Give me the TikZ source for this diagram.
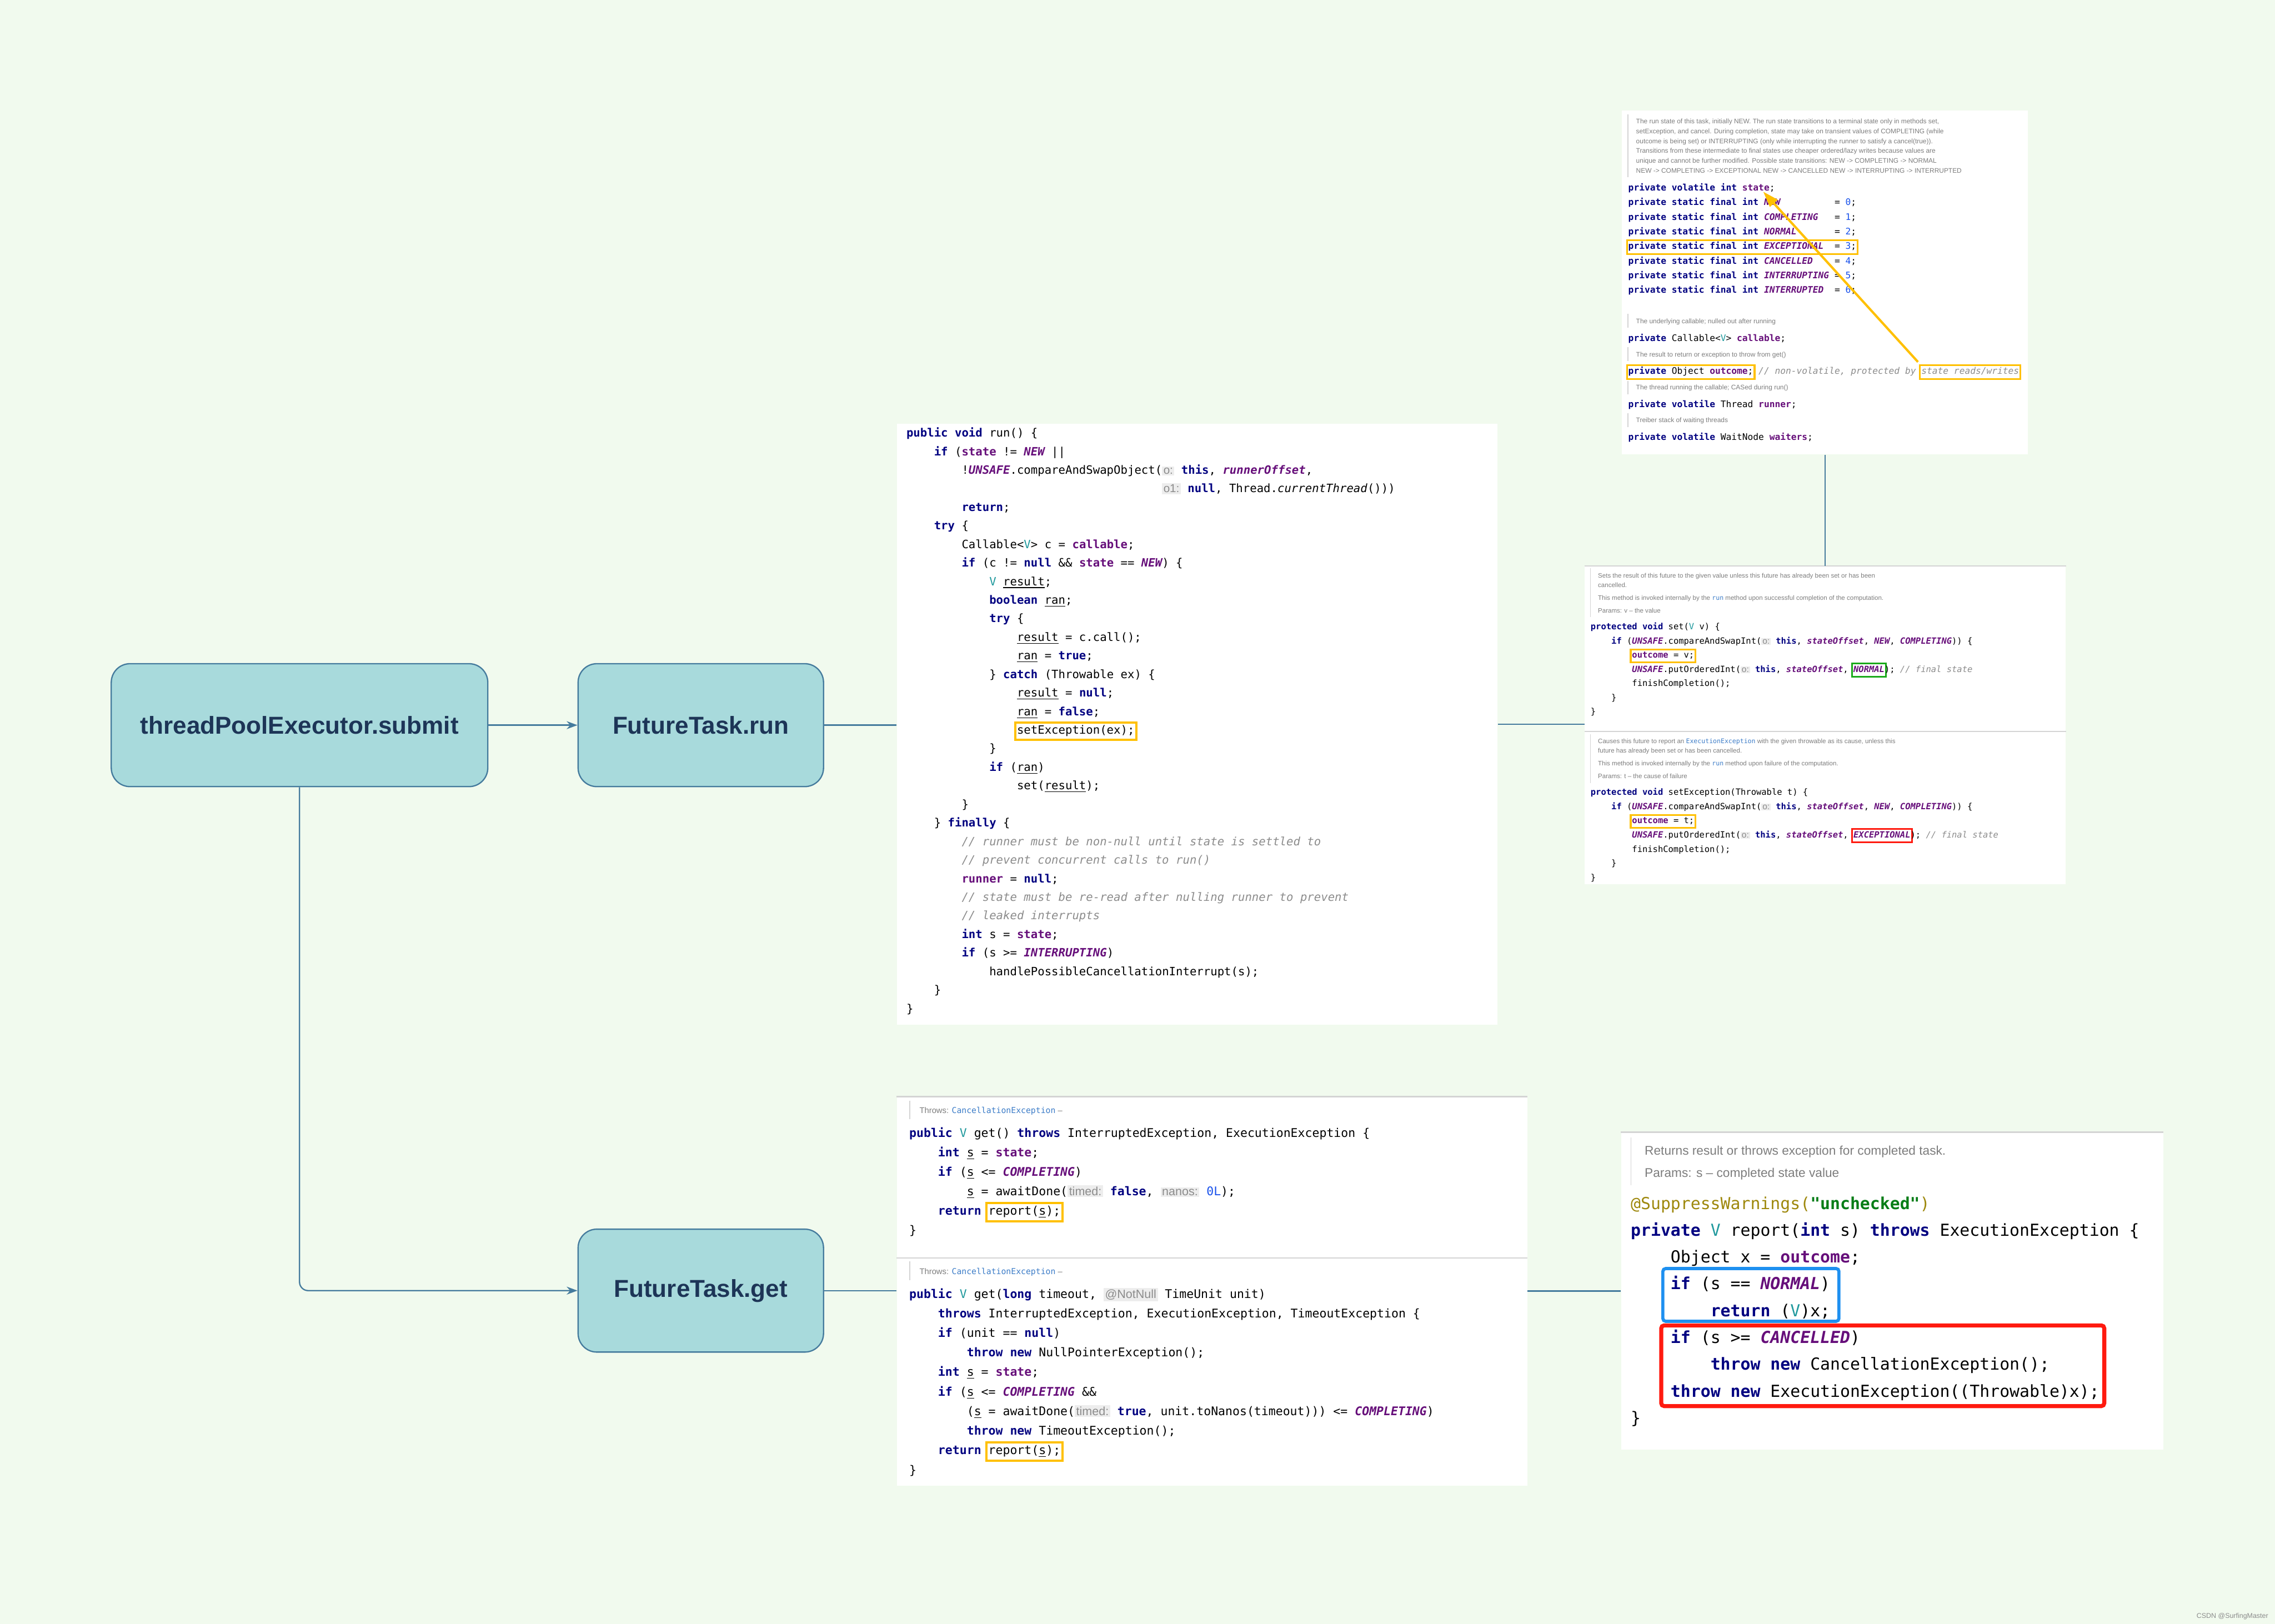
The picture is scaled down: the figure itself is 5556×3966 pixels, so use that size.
\documentclass[tikz,border=0pt]{standalone}
\usepackage{fontspec}
\setmainfont{Liberation Sans}
\setsansfont{Liberation Sans}
\setmonofont{DejaVu Sans Mono}
\usepackage{xcolor}
\usepackage{tikz}
\usetikzlibrary{arrows.meta,positioning,fit}
\definecolor{bgGreen}{HTML}{F1FAEE}
\definecolor{boxFill}{HTML}{A8DADC}
\definecolor{boxLine}{HTML}{457B9D}
\definecolor{boxText}{HTML}{1D3557}
\definecolor{kwBlue}{HTML}{000080}
\definecolor{fdPurple}{HTML}{660E7A}
\definecolor{numBlue}{HTML}{1750EB}
\definecolor{tpTeal}{HTML}{20999D}
\definecolor{cmtGray}{HTML}{8C8C8C}
\definecolor{docGray}{HTML}{7D7D7D}
\definecolor{lnkBlue}{HTML}{3D7DC8}
\definecolor{annOlive}{HTML}{9E880D}
\definecolor{strGreen}{HTML}{067D17}
\definecolor{hintBg}{HTML}{EDEDED}
\definecolor{hintFg}{HTML}{8C8C8C}
\definecolor{hlYellow}{HTML}{FFC000}
\definecolor{hlGreen}{HTML}{1AAA1A}
\definecolor{hlRed}{HTML}{FF1A0F}
\definecolor{hlBlue}{HTML}{1E90F0}
\definecolor{sepGray}{HTML}{D4D4D4}
% token colouring, IntelliJ light scheme
\newcommand\kw[1]{{\bfseries\color{kwBlue}#1}}
\newcommand\fd[1]{{\bfseries\color{fdPurple}#1}}
\newcommand\cst[1]{{\bfseries\itshape\color{fdPurple}#1}}
\newcommand\nm[1]{{\color{numBlue}#1}}
\newcommand\tp[1]{{\color{tpTeal}#1}}
\newcommand\cmt[1]{{\itshape\color{cmtGray}#1}}
\newcommand\lnk[1]{{\ttfamily\color{lnkBlue}#1}}
\newcommand\hint[1]{{\setlength{\fboxsep}{0.12em}\colorbox{hintBg}{\sffamily\color{hintFg}#1}}}
\newcommand\gap[1]{\hspace*{#1\fontcharwd\font`0}}
\newcommand\hl[2]{{\setlength{\fboxrule}{0.2em}\setlength{\fboxsep}{0.06em}%
  \makebox[0pt][l]{\hspace*{-0.26em}{\color{#1}\fbox{\phantom{\strut #2}}}}#2}}

\begin{document}
\begin{tikzpicture}[x=0.01cm, y=-0.01cm,
  callbox/.style={draw=boxLine, fill=boxFill, line width=0.9pt, rounded corners=13pt,
    minimum height=3cm, text=boxText, font=\bfseries\fontsize{17}{20}\selectfont},
  flow/.style={draw=boxLine, line width=0.9pt},
  panel/.style={fill=white, draw=none, inner sep=0pt},
  topline/.style={draw=sepGray, line width=0.9pt},
  docbar/.style={draw=sepGray, line width=0.6pt},
  codeline/.style={anchor=base west, inner sep=0pt, text=black},
  runcode/.style={codeline, font=\ttfamily\fontsize{7.97}{9.6}\selectfont},
  fieldcode/.style={codeline, font=\ttfamily\fontsize{6.26}{7.5}\selectfont},
  setcode/.style={codeline, font=\ttfamily\fontsize{5.97}{7.2}\selectfont},
  getcode/.style={codeline, font=\ttfamily\fontsize{8.3}{10}\selectfont},
  repcode/.style={codeline, font=\ttfamily\fontsize{11.5}{13.8}\selectfont},
  doctext/.style={anchor=base west, inner sep=0pt, text=docGray, font=\sffamily\fontsize{4.6}{5.5}\selectfont},
  hlbox/.style={line width=2.2pt, rounded corners=2pt}]
\useasboundingbox (0,0) rectangle (5556,3966);
\fill[bgGreen] (0,0) rectangle (5556,3966);

% call nodes
\node[callbox, minimum width=9.19cm] (submit) at (731.5,1771) {threadPoolExecutor.submit};
\node[callbox, minimum width=5.99cm] (run) at (1711.5,1771) {FutureTask.run};
\node[callbox, minimum width=5.99cm] (get) at (1711.5,3152) {FutureTask.get};

% code panels
\node[panel, fit={(3961,270) (4953,1110)}] (fieldsP) {};
\node[panel, fit={(2190,1035) (3657,2502)}] (runP) {};
\node[panel, fit={(3870,1383) (5045,1787)}] (setP) {};
\node[panel, fit={(3870,1787) (5045,2160)}] (setExP) {};
\node[panel, fit={(2190,2679) (3730,3073)}] (getP) {};
\node[panel, fit={(2190,3073) (3730,3629)}] (getTP) {};
\node[panel, fit={(3959,2766) (5283,3540)}] (reportP) {};
\foreach \p in {setP,setExP,getP,getTP,reportP}
  \draw[topline] (\p.north west) -- (\p.north east);

% connectors
\draw[flow, -{Stealth[length=7.5pt,width=5.5pt]}] (submit) -- (run);
\draw[flow, rounded corners=6pt, -{Stealth[length=7.5pt,width=5.5pt]}] (submit.south) |- (get.west);
\draw[flow] (run.east) -- (run.east -| runP.west);
\draw[flow] (runP.east) -- (runP.east -| setP.west);
\draw[flow] (fieldsP.south) -- (fieldsP.south |- setP.north);
\draw[flow] (get.east) -- (get.east -| getTP.west);
\draw[flow] (getTP.east |- reportP.west) -- (reportP.west);

% fields of FutureTask
\draw[docbar] (3976,280) -- (3976,433);
\foreach \txt [count=\i from 0] in {
  {The run state of this task, initially NEW. The run state transitions to a terminal state only in methods set,},
  {setException, and cancel. During completion, state may take on transient values of COMPLETING (while},
  {outcome is being set) or INTERRUPTING (only while interrupting the runner to satisfy a cancel(true)).},
  {Transitions from these intermediate to final states use cheaper ordered/lazy writes because values are},
  {unique and cannot be further modified. Possible state transitions: NEW -> COMPLETING -> NORMAL},
  {NEW -> COMPLETING -> EXCEPTIONAL NEW -> CANCELLED NEW -> INTERRUPTING -> INTERRUPTED}}
  \node[doctext] (fdoc\i) at (3995, {302+\i*24}) {\txt};
\foreach \txt [count=\i from 0] in {
  {\kw{private} \kw{volatile} \kw{int} \fd{state};},
  {\kw{private} \kw{static} \kw{final} \kw{int} \cst{NEW}\gap{10}= \nm{0};},
  {\kw{private} \kw{static} \kw{final} \kw{int} \cst{COMPLETING}\gap{3}= \nm{1};},
  {\kw{private} \kw{static} \kw{final} \kw{int} \cst{NORMAL}\gap{7}= \nm{2};},
  {\hl{hlYellow}{\kw{private} \kw{static} \kw{final} \kw{int} \cst{EXCEPTIONAL}\gap{2}= \nm{3};}},
  {\kw{private} \kw{static} \kw{final} \kw{int} \cst{CANCELLED}\gap{4}= \nm{4};},
  {\kw{private} \kw{static} \kw{final} \kw{int} \cst{INTERRUPTING}\gap{1}= \nm{5};},
  {\kw{private} \kw{static} \kw{final} \kw{int} \cst{INTERRUPTED}\gap{2}= \nm{6};}}
  \node[fieldcode] (fld\i) at (3976, {466+\i*35.7}) {\txt};
\draw[docbar] (3976,767) -- (3976,800);
\draw[docbar] (3976,848) -- (3976,882);
\draw[docbar] (3976,930) -- (3976,963);
\draw[docbar] (3976,1009) -- (3976,1043);
\node[doctext] (fdoc6) at (3995,790) {The underlying callable; nulled out after running};
\node[fieldcode] (fld8) at (3976,833) {\kw{private} Callable<\tp{V}> \fd{callable};};
\node[doctext] (fdoc7) at (3995,871) {The result to return or exception to throw from get()};
\node[fieldcode] (fld9) at (3976,914)
  {\hl{hlYellow}{\kw{private} Object \fd{outcome};} \cmt{// non-volatile, protected by \hl{hlYellow}{state reads/writes}}};
\node[doctext] (fdoc8) at (3995,952) {The thread running the callable; CASed during run()};
\node[fieldcode] (fld10) at (3976,995) {\kw{private} \kw{volatile} Thread \fd{runner};};
\node[doctext] (fdoc9) at (3995,1032) {Treiber stack of waiting threads};
\node[fieldcode] (fld11) at (3976,1075) {\kw{private} \kw{volatile} WaitNode \fd{waiters};};
\coordinate (srwTail) at (4684,884);
\coordinate (stateTip) at (4306,468);
\draw[hlYellow, line width=1.6pt, -{Triangle[length=11pt,width=7pt]}] (srwTail) -- (stateTip);

% run()
\foreach \txt [count=\i from 0] in {
  {\kw{public} \kw{void} run() \{},
  {\gap{4}\kw{if} (\fd{state} != \cst{NEW} ||},
  {\gap{8}!\cst{UNSAFE}.compareAndSwapObject(\hint{o:} \kw{this}, \cst{runnerOffset},},
  {\gap{37}\hint{o1:} \kw{null}, Thread.\textit{currentThread}()))},
  {\gap{8}\kw{return};},
  {\gap{4}\kw{try} \{},
  {\gap{8}Callable<\tp{V}> c = \fd{callable};},
  {\gap{8}\kw{if} (c != \kw{null} \&\& \fd{state} == \cst{NEW}) \{},
  {\gap{12}\tp{V} \underline{result};},
  {\gap{12}\kw{boolean} \underline{ran};},
  {\gap{12}\kw{try} \{},
  {\gap{16}\underline{result} = c.call();},
  {\gap{16}\underline{ran} = \kw{true};},
  {\gap{12}\} \kw{catch} (Throwable ex) \{},
  {\gap{16}\underline{result} = \kw{null};},
  {\gap{16}\underline{ran} = \kw{false};},
  {\gap{16}\hl{hlYellow}{setException(ex);}},
  {\gap{12}\}},
  {\gap{12}\kw{if} (\underline{ran})},
  {\gap{16}set(\underline{result});},
  {\gap{8}\}},
  {\gap{4}\} \kw{finally} \{},
  {\gap{8}\cmt{// runner must be non-null until state is settled to}},
  {\gap{8}\cmt{// prevent concurrent calls to run()}},
  {\gap{8}\fd{runner} = \kw{null};},
  {\gap{8}\cmt{// state must be re-read after nulling runner to prevent}},
  {\gap{8}\cmt{// leaked interrupts}},
  {\gap{8}\kw{int} s = \fd{state};},
  {\gap{8}\kw{if} (s >= \cst{INTERRUPTING})},
  {\gap{12}handlePossibleCancellationInterrupt(s);},
  {\gap{4}\}},
  {\}}}
  \node[runcode] (run\i) at (2213, {1067+\i*45.35}) {\txt};

% set(V v)
\draw[docbar] (3884,1388) -- (3884,1507);
\foreach \txt [count=\i from 0] in {
  {Sets the result of this future to the given value unless this future has already been set or has been},
  {cancelled.},
  {This method is invoked internally by the \lnk{run} method upon successful completion of the computation.},
  {Params: v – the value}}
  \node[doctext, font=\sffamily\fontsize{4.45}{5.3}\selectfont] (sdoc\i) at (3902, {\i<2 ? 1411+\i*23 : 1466+(\i-2)*31}) {\txt};
\foreach \txt [count=\i from 0] in {
  {\kw{protected} \kw{void} set(\tp{V} v) \{},
  {\gap{4}\kw{if} (\cst{UNSAFE}.compareAndSwapInt(\hint{o:} \kw{this}, \cst{stateOffset}, \cst{NEW}, \cst{COMPLETING})) \{},
  {\gap{8}\hl{hlYellow}{\fd{outcome} = v;}},
  {\gap{8}\cst{UNSAFE}.putOrderedInt(\hint{o:} \kw{this}, \cst{stateOffset}, \hl{hlGreen}{\cst{NORMAL}}); \cmt{// final state}},
  {\gap{8}finishCompletion();},
  {\gap{4}\}},
  {\}}}
  \node[setcode] (set\i) at (3884, {1538+\i*34.5}) {\txt};

% setException(Throwable t)
\draw[docbar] (3884,1793) -- (3884,1912);
\foreach \txt [count=\i from 0] in {
  {Causes this future to report an \lnk{ExecutionException} with the given throwable as its cause, unless this},
  {future has already been set or has been cancelled.},
  {This method is invoked internally by the \lnk{run} method upon failure of the computation.},
  {Params: t – the cause of failure}}
  \node[doctext, font=\sffamily\fontsize{4.45}{5.3}\selectfont] (xdoc\i) at (3902, {\i<2 ? 1816+\i*22 : 1870+(\i-2)*31}) {\txt};
\foreach \txt [count=\i from 0] in {
  {\kw{protected} \kw{void} setException(Throwable t) \{},
  {\gap{4}\kw{if} (\cst{UNSAFE}.compareAndSwapInt(\hint{o:} \kw{this}, \cst{stateOffset}, \cst{NEW}, \cst{COMPLETING})) \{},
  {\gap{8}\hl{hlYellow}{\fd{outcome} = t;}},
  {\gap{8}\cst{UNSAFE}.putOrderedInt(\hint{o:} \kw{this}, \cst{stateOffset}, \hl{hlRed}{\cst{EXCEPTIONAL}}); \cmt{// final state}},
  {\gap{8}finishCompletion();},
  {\gap{4}\}},
  {\}}}
  \node[setcode] (setx\i) at (3884, {1942+\i*34.7}) {\txt};

% get()
\draw[docbar] (2222,2688) -- (2222,2733);
\node[doctext, font=\sffamily\fontsize{5.7}{6.8}\selectfont] (gdoc0) at (2245,2719)
  {Throws: \lnk{CancellationException} –};
\foreach \txt [count=\i from 0] in {
  {\kw{public} \tp{V} get() \kw{throws} InterruptedException, ExecutionException \{},
  {\gap{4}\kw{int} \underline{s} = \fd{state};},
  {\gap{4}\kw{if} (\underline{s} <= \cst{COMPLETING})},
  {\gap{8}\underline{s} = awaitDone(\hint{timed:} \kw{false}, \hint{nanos:} \nm{0L});},
  {\gap{4}\kw{return} \hl{hlYellow}{report(\underline{s});}},
  {\}}}
  \node[getcode] (get\i) at (2220, {2777+\i*47.6}) {\txt};

% get(long timeout, TimeUnit unit)
\draw[docbar] (2222,3081) -- (2222,3127);
\node[doctext, font=\sffamily\fontsize{5.7}{6.8}\selectfont] (gdoc1) at (2245,3112)
  {Throws: \lnk{CancellationException} –};
\foreach \txt [count=\i from 0] in {
  {\kw{public} \tp{V} get(\kw{long} timeout, \hint{@NotNull} TimeUnit unit)},
  {\gap{4}\kw{throws} InterruptedException, ExecutionException, TimeoutException \{},
  {\gap{4}\kw{if} (unit == \kw{null})},
  {\gap{8}\kw{throw} \kw{new} NullPointerException();},
  {\gap{4}\kw{int} \underline{s} = \fd{state};},
  {\gap{4}\kw{if} (\underline{s} <= \cst{COMPLETING} \&\&},
  {\gap{8}(\underline{s} = awaitDone(\hint{timed:} \kw{true}, unit.toNanos(timeout))) <= \cst{COMPLETING})},
  {\gap{8}\kw{throw} \kw{new} TimeoutException();},
  {\gap{4}\kw{return} \hl{hlYellow}{report(\underline{s});}},
  {\}}}
  \node[getcode] (gett\i) at (2220, {3170+\i*47.8}) {\txt};

% report(int s)
\draw[docbar] (3983,2778) -- (3983,2895);
\node[doctext, font=\sffamily\fontsize{8.75}{10.5}\selectfont] (rdoc0) at (4016,2821)
  {Returns result or throws exception for completed task.};
\node[doctext, font=\sffamily\fontsize{8.75}{10.5}\selectfont] (rdoc1) at (4016,2875)
  {Params: s – completed state value};
\foreach \txt [count=\i from 0] in {
  {\textcolor{annOlive}{@SuppressWarnings(}{\bfseries\color{strGreen}"unchecked"}\textcolor{annOlive}{)}},
  {\kw{private} \tp{V} report(\kw{int} s) \kw{throws} ExecutionException \{},
  {\gap{4}Object x = \fd{outcome};},
  {\gap{4}\kw{if} (s == \cst{NORMAL})},
  {\gap{8}\kw{return} (\tp{V})x;},
  {\gap{4}\kw{if} (s >= \cst{CANCELLED})},
  {\gap{8}\kw{throw} \kw{new} CancellationException();},
  {\gap{4}\kw{throw} \kw{new} ExecutionException((Throwable)x);},
  {\}}}
  \node[repcode] (rep\i) at (3982, {2953+\i*65.5}) {\txt};
\draw[hlbox, hlBlue] (4061,3098) rectangle (4491,3227);
\draw[hlbox, hlRed, line width=2.8pt] (4057,3237) rectangle (5139,3434);

\node[anchor=east, inner sep=0pt, text=black!45, font=\sffamily\fontsize{4.8}{6}\selectfont] (wm) at (5540,3947)
  {CSDN @SurfingMaster};
\end{tikzpicture}
\end{document}
